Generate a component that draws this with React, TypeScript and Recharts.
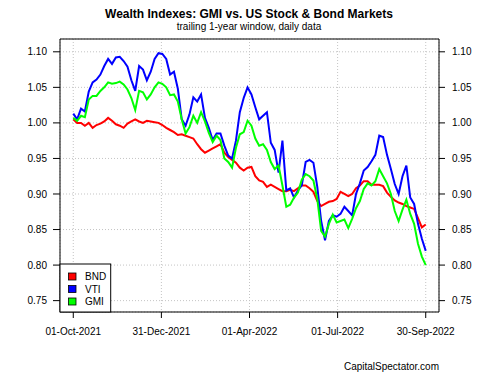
import React from "react";
import {
  LineChart,
  Line,
  XAxis,
  YAxis,
  CartesianGrid,
  ReferenceArea,
} from "recharts";

// day offsets from 01-Oct-2021
const days = [
  0, 4, 8, 12, 16, 20, 24, 28, 32, 36, 40, 44, 48, 52, 56, 60, 64, 68, 72, 76,
  80, 84, 88, 92, 96, 100, 104, 108, 112, 116, 120, 124, 128, 132, 136, 140,
  144, 148, 152, 156, 160, 164, 168, 172, 176, 180, 184, 188, 192, 196, 200,
  204, 208, 212, 216, 220, 224, 228, 232, 236, 240, 244, 248, 252, 256, 260,
  264, 268, 272, 276, 280, 284, 288, 292, 296, 300, 304, 308, 312, 316, 320,
  324, 328, 332, 336, 340, 344, 348, 352, 356, 360, 364,
];

const bnd = [
  1.005, 1.0, 1.0, 0.996, 1.0, 0.993, 0.997, 0.999, 1.002, 1.007,
  1.003, 0.998, 0.996, 0.993, 0.999, 1.002, 1.005, 1.002, 1.0, 1.003,
  1.002, 1.001, 1.0, 0.997, 0.993, 0.99, 0.987, 0.983, 0.984, 0.982,
  0.98, 0.978, 0.97, 0.963, 0.958, 0.961, 0.964, 0.967, 0.97, 0.958,
  0.952, 0.948, 0.944, 0.937, 0.933, 0.937, 0.938, 0.925, 0.919, 0.917,
  0.91, 0.913, 0.91, 0.907, 0.904, 0.904, 0.906, 0.904, 0.908, 0.912,
  0.912, 0.908, 0.903, 0.89, 0.883, 0.886, 0.889, 0.89, 0.893, 0.903,
  0.9, 0.897, 0.9, 0.908, 0.912, 0.918, 0.918, 0.913, 0.913, 0.913,
  0.911, 0.902, 0.896, 0.891, 0.888, 0.886, 0.883, 0.881, 0.879, 0.866,
  0.853, 0.857,
];

const vti = [
  1.013, 1.005, 1.02, 1.016, 1.044, 1.057, 1.061, 1.068, 1.08, 1.09,
  1.083, 1.092, 1.093, 1.087, 1.079, 1.06, 1.045, 1.08, 1.075, 1.06,
  1.072, 1.09, 1.098, 1.097, 1.09, 1.068, 1.072, 1.048, 1.005, 0.996,
  1.012, 1.036, 1.03, 1.04, 1.007, 0.993, 0.976, 0.985, 0.985, 0.968,
  0.954, 0.95, 0.975, 1.015, 1.035, 1.05, 1.04, 1.022, 1.005, 1.01,
  1.015, 0.972, 0.962, 0.93, 0.975, 0.905, 0.908, 0.895, 0.905, 0.912,
  0.945, 0.948, 0.944, 0.91, 0.862, 0.835, 0.862, 0.87, 0.868, 0.872,
  0.882, 0.876, 0.87, 0.9, 0.915, 0.933, 0.938, 0.946, 0.955, 0.982,
  0.98, 0.955, 0.935, 0.914, 0.9, 0.925, 0.94, 0.895, 0.886, 0.858,
  0.837, 0.82,
];

const gmi = [
  1.007, 1.003, 1.01, 1.008, 1.033, 1.038, 1.038, 1.045, 1.05, 1.057,
  1.055, 1.056, 1.058, 1.054, 1.047, 1.035, 1.018, 1.045, 1.043, 1.033,
  1.04, 1.05, 1.057, 1.055, 1.05, 1.039, 1.04, 1.03, 1.005, 0.985,
  0.994, 1.01, 1.0, 1.015, 1.002, 0.986, 0.973, 0.982, 0.976, 0.95,
  0.945, 0.937, 0.965, 0.984, 0.987, 1.003, 0.996, 0.978, 0.968, 0.97,
  0.962, 0.945, 0.935, 0.94, 0.912, 0.882, 0.885, 0.895, 0.902, 0.92,
  0.928, 0.925, 0.919, 0.893, 0.848, 0.84, 0.858, 0.871, 0.86, 0.862,
  0.864, 0.852, 0.865, 0.88, 0.89, 0.907, 0.915, 0.912, 0.918, 0.935,
  0.925, 0.915, 0.9, 0.876, 0.862, 0.878, 0.892, 0.872, 0.858, 0.83,
  0.812, 0.8,
];

const tickDays = [0, 91, 182, 273, 364];
const tickLabels = [
  "01-Oct-2021",
  "31-Dec-2021",
  "01-Apr-2022",
  "01-Jul-2022",
  "30-Sep-2022",
];
const yTicks = [0.75, 0.8, 0.85, 0.9, 0.95, 1.0, 1.05, 1.1];

const seriesNames = ["BND", "VTI", "GMI"];
const seriesColors = ["#ff0000", "#0000ff", "#00ff00"];

const title = "Wealth Indexes: GMI vs. US Stock & Bond Markets";
const subtitle = "trailing 1-year window, daily data";
const credit = "CapitalSpectator.com";

const data = days.map((d, i) => ({
  day: d,
  BND: bnd[i],
  VTI: vti[i],
  GMI: gmi[i],
}));

const X_DOMAIN: [number, number] = [-13.7, 377.7];
const Y_DOMAIN: [number, number] = [0.734, 1.118];

const W = 492;
const H = 367;
const FONT = "'Liberation Sans', Arial, Helvetica, sans-serif";

export default function App() {
  const tickStyle = { fontSize: 10, fill: "#000", fontFamily: FONT };
  return (
    <div style={{ position: "relative", width: W, height: H, fontFamily: FONT }}>
      <LineChart
        width={W}
        height={H}
        data={data}
        margin={{ top: 31, right: 0, bottom: 33, left: 0 }}
      >
        <CartesianGrid
          xAxisId="x"
          yAxisId="left"
          stroke="#c4c4c4"
          strokeDasharray="1 2"
        />
        <XAxis
          xAxisId="x"
          dataKey="day"
          type="number"
          domain={X_DOMAIN}
          ticks={tickDays}
          tickFormatter={(v: number) => tickLabels[tickDays.indexOf(v)] ?? ""}
          height={30}
          tickSize={6}
          tickMargin={10}
          tick={tickStyle}
          stroke="#000"
          axisLine={false}
          interval={0}
          allowDataOverflow
        />
        <YAxis
          yAxisId="left"
          type="number"
          domain={Y_DOMAIN}
          ticks={yTicks}
          tickFormatter={(v: number) => v.toFixed(2)}
          width={52}
          tickSize={7}
          tickMargin={6}
          tick={tickStyle}
          stroke="#000"
          axisLine={false}
          interval={0}
          allowDataOverflow
        />
        <YAxis
          yAxisId="right"
          orientation="right"
          type="number"
          domain={Y_DOMAIN}
          ticks={yTicks}
          tickFormatter={(v: number) => v.toFixed(2)}
          width={61}
          tickSize={6}
          tickMargin={7}
          tick={tickStyle}
          stroke="#000"
          axisLine={false}
          interval={0}
          allowDataOverflow
        />
        {seriesNames.map((name, i) => (
          <Line
            key={name}
            xAxisId="x"
            yAxisId="left"
            type="linear"
            dataKey={name}
            stroke={seriesColors[i]}
            strokeWidth={2}
            dot={false}
            isAnimationActive={false}
          />
        ))}
        <Line
          xAxisId="x"
          yAxisId="right"
          dataKey="GMI"
          stroke="none"
          strokeWidth={0}
          dot={false}
          legendType="none"
          isAnimationActive={false}
        />
        <ReferenceArea
          xAxisId="x"
          yAxisId="left"
          x1={X_DOMAIN[0]}
          x2={X_DOMAIN[1]}
          y1={Y_DOMAIN[0]}
          y2={Y_DOMAIN[1]}
          fill="none"
          fillOpacity={0}
          stroke="#000"
          strokeWidth={1}
          ifOverflow="visible"
        />
      </LineChart>
      <svg
        width={W}
        height={H}
        style={{ position: "absolute", left: 0, top: 0, pointerEvents: "none" }}
      >
        <text
          x={241}
          y={10.3}
          textAnchor="middle"
          fontSize={12}
          fontWeight="bold"
          fill="#000"
          fontFamily={FONT}
        >
          {title}
        </text>
        <text
          x={241}
          y={22}
          textAnchor="middle"
          fontSize={10}
          fill="#000"
          fontFamily={FONT}
        >
          {subtitle}
        </text>
        <text
          x={431}
          y={362.3}
          textAnchor="end"
          fontSize={10}
          fill="#000"
          fontFamily={FONT}
        >
          {credit}
        </text>
        <g>
          <rect x={52} y={256} width={50.7} height={48} fill="#fff" stroke="#000" strokeWidth={1} />
          {seriesNames.map((name, i) => (
            <g key={name}>
              <rect
                x={60.5}
                y={265 + i * 12.5}
                width={7.5}
                height={7}
                fill={seriesColors[i]}
                stroke="#000"
                strokeWidth={0.8}
              />
              <text
                x={77}
                y={272 + i * 12.5}
                fontSize={10}
                fill="#000"
                fontFamily={FONT}
              >
                {name}
              </text>
            </g>
          ))}
        </g>
      </svg>
    </div>
  );
}
